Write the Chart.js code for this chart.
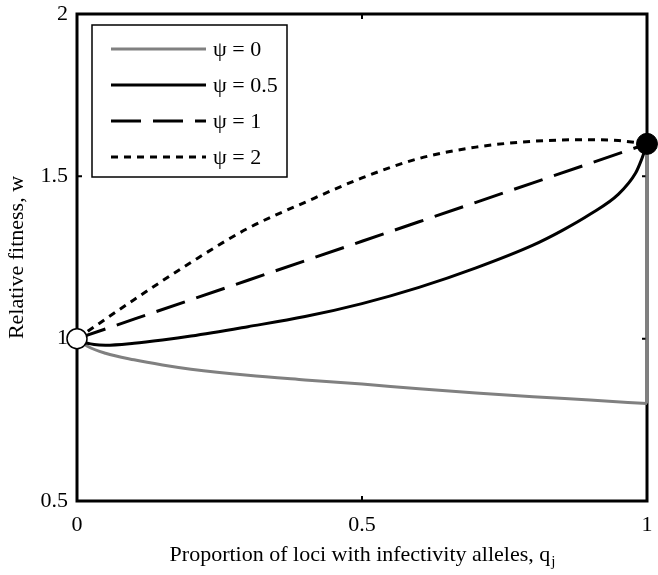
<!DOCTYPE html>
<html>
<head>
<meta charset="utf-8">
<script src="https://cdn.jsdelivr.net/npm/chart.js@4.4.1/dist/chart.umd.min.js"></script>
<style>
  html, body { margin: 0; padding: 0; background: #fff; }
</style>
</head>
<body>
<canvas id="fitness" width="658" height="575"></canvas>
<script>
// values
const qPsi0 = [0, 0.02, 0.05, 0.1, 0.15, 0.2, 0.3, 0.4, 0.5, 0.6, 0.7, 0.8, 0.9, 1];
const wPsi0 = [1.0, 0.975, 0.955, 0.935, 0.919, 0.906, 0.887, 0.873, 0.86, 0.846, 0.833, 0.821, 0.811, 0.8];
// vertical jump of the psi = 0 curve at q = 1
const qPsi0Jump = [1, 1];
const wPsi0Jump = [0.8, 1.6];

const qPsi05 = [0, 0.01, 0.03, 0.05, 0.1, 0.15, 0.2, 0.3, 0.4, 0.5, 0.6, 0.7, 0.8, 0.85, 0.9, 0.95, 0.98, 0.99, 1];
const wPsi05 = [1.0, 0.99, 0.982, 0.98, 0.986, 0.996, 1.008, 1.037, 1.068, 1.108, 1.158, 1.218, 1.288, 1.332, 1.383, 1.445, 1.51, 1.55, 1.6];

const qPsi1 = [0, 0.1, 0.2, 0.3, 0.4, 0.5, 0.6, 0.7, 0.8, 0.9, 1];
const wPsi1 = [1.0, 1.06, 1.12, 1.18, 1.24, 1.3, 1.36, 1.42, 1.48, 1.54, 1.6];

const qPsi2 = [0, 0.1, 0.2, 0.3, 0.4, 0.5, 0.6, 0.7, 0.8, 0.9, 0.95, 1];
const wPsi2 = [1.0, 1.12, 1.235, 1.34, 1.42, 1.495, 1.555, 1.59, 1.608, 1.613, 1.61, 1.6];

const openMarker = [0, 1.0];
const filledMarker = [1, 1.6];

const seriesLabels = ['ψ = 0', 'ψ = 0.5', 'ψ = 1', 'ψ = 2'];
const xTicks = [0, 0.5, 1];
const yTicks = [0.5, 1, 1.5, 2];

const FONT = 'Liberation Serif';
const toPts = (qs, ws) => qs.map((q, i) => ({ x: q, y: ws[i] }));

// box round the plot, ticks pointing inwards
const framePlugin = {
  id: 'frame',
  beforeDatasetsDraw(chart) {
    const { ctx, chartArea: a, scales } = chart;
    ctx.save();
    ctx.strokeStyle = '#000';
    ctx.lineWidth = 3;
    ctx.strokeRect(a.left, a.top, a.right - a.left, a.bottom - a.top);
    ctx.lineWidth = 2;
    const len = 5;
    xTicks.forEach(v => {
      const px = scales.x.getPixelForValue(v);
      ctx.beginPath();
      ctx.moveTo(px, a.bottom); ctx.lineTo(px, a.bottom - len);
      ctx.moveTo(px, a.top); ctx.lineTo(px, a.top + len);
      ctx.stroke();
    });
    yTicks.forEach(v => {
      const py = scales.y.getPixelForValue(v);
      ctx.beginPath();
      ctx.moveTo(a.left, py); ctx.lineTo(a.left + len, py);
      ctx.moveTo(a.right, py); ctx.lineTo(a.right - len, py);
      ctx.stroke();
    });
    ctx.restore();
  }
};

// legend box in the upper left corner + x title with subscript
const legendPlugin = {
  id: 'legendBox',
  afterDraw(chart) {
    const { ctx, chartArea: a } = chart;
    ctx.save();
    const bx = a.left + 15, by = a.top + 11, bw = 195, bh = 152;
    ctx.fillStyle = '#fff';
    ctx.fillRect(bx, by, bw, bh);
    ctx.strokeStyle = '#000';
    ctx.lineWidth = 1.5;
    ctx.strokeRect(bx, by, bw, bh);
    ctx.font = '22px "' + FONT + '"';
    ctx.textBaseline = 'middle';
    ctx.textAlign = 'left';
    seriesLabels.forEach((lab, i) => {
      const ds = chart.data.datasets[i];
      const y = by + 24 + i * 36;
      ctx.beginPath();
      ctx.strokeStyle = ds.borderColor;
      ctx.lineWidth = ds.borderWidth;
      ctx.setLineDash(ds.borderDash || []);
      ctx.moveTo(bx + 19, y);
      ctx.lineTo(bx + 114, y);
      ctx.stroke();
      ctx.setLineDash([]);
      ctx.fillStyle = '#000';
      ctx.fillText(lab, bx + 121, y + 1);
    });

    const main = 'Proportion of loci with infectivity alleles, q';
    const sub = 'j';
    ctx.textBaseline = 'alphabetic';
    ctx.font = '22px "' + FONT + '"';
    const mw = ctx.measureText(main).width;
    ctx.font = '15px "' + FONT + '"';
    const sw = ctx.measureText(sub).width;
    const x0 = (a.left + a.right) / 2 - (mw + sw) / 2;
    ctx.font = '22px "' + FONT + '"';
    ctx.fillText(main, x0, 561);
    ctx.font = '15px "' + FONT + '"';
    ctx.fillText(sub, x0 + mw + 1, 566);
    ctx.restore();
  }
};

const grey = '#808080';

new Chart(document.getElementById('fitness'), {
  type: 'scatter',
  data: {
    datasets: [
      {
        label: seriesLabels[0],
        data: toPts(qPsi0, wPsi0),
        showLine: true,
        borderColor: grey,
        borderWidth: 3,
        pointRadius: 0,
        cubicInterpolationMode: 'monotone',
        clip: false,
        order: 4
      },
      {
        label: seriesLabels[1],
        data: toPts(qPsi05, wPsi05),
        showLine: true,
        borderColor: '#000',
        borderWidth: 3,
        pointRadius: 0,
        cubicInterpolationMode: 'monotone',
        clip: false,
        order: 3
      },
      {
        label: seriesLabels[2],
        data: toPts(qPsi1, wPsi1),
        showLine: true,
        borderColor: '#000',
        borderWidth: 3,
        borderDash: [30, 12],
        pointRadius: 0,
        clip: false,
        order: 2
      },
      {
        label: seriesLabels[3],
        data: toPts(qPsi2, wPsi2),
        showLine: true,
        borderColor: '#000',
        borderWidth: 3,
        borderDash: [7, 6],
        pointRadius: 0,
        cubicInterpolationMode: 'monotone',
        clip: false,
        order: 1
      },
      {
        data: [{ x: openMarker[0], y: openMarker[1] }],
        pointRadius: 10,
        pointBackgroundColor: '#fff',
        pointBorderColor: '#000',
        pointBorderWidth: 1.5,
        clip: false,
        order: 0
      },
      {
        data: [{ x: filledMarker[0], y: filledMarker[1] }],
        pointRadius: 10.5,
        pointBackgroundColor: '#000',
        pointBorderColor: '#000',
        pointBorderWidth: 1,
        clip: false,
        order: 0
      },
      {
        data: toPts(qPsi0Jump, wPsi0Jump),
        showLine: true,
        borderColor: grey,
        borderWidth: 3,
        pointRadius: 0,
        clip: false,
        order: 4
      }
    ]
  },
  options: {
    responsive: false,
    animation: false,
    layout: { autoPadding: false, padding: { top: 14, right: 11, left: 0, bottom: 0 } },
    plugins: {
      legend: { display: false },
      tooltip: { enabled: false }
    },
    scales: {
      x: {
        type: 'linear',
        min: 0,
        max: 1,
        afterBuildTicks: s => { s.ticks = xTicks.map(v => ({ value: v })); },
        afterFit: s => {
          s.height = 74;
          s.paddingLeft = 0;
          s.paddingRight = 0;
        },
        grid: { display: false, drawTicks: false },
        border: { display: false },
        ticks: {
          padding: 11,
          color: '#000',
          font: { family: FONT, size: 22 },
          callback: v => String(v)
        }
      },
      y: {
        type: 'linear',
        min: 0.5,
        max: 2,
        afterBuildTicks: s => { s.ticks = yTicks.map(v => ({ value: v })); },
        afterFit: s => {
          s.width = 77;
          s.paddingTop = 0;
          s.paddingBottom = 0;
        },
        grid: { display: false, drawTicks: false },
        border: { display: false },
        ticks: {
          padding: 9,
          color: '#000',
          font: { family: FONT, size: 22 },
          callback: v => String(v)
        },
        title: {
          display: true,
          text: 'Relative fitness, w',
          color: '#000',
          font: { family: FONT, size: 22 },
          padding: { top: 4, bottom: 0 }
        }
      }
    }
  },
  plugins: [framePlugin, legendPlugin]
});
</script>
</body>
</html>
